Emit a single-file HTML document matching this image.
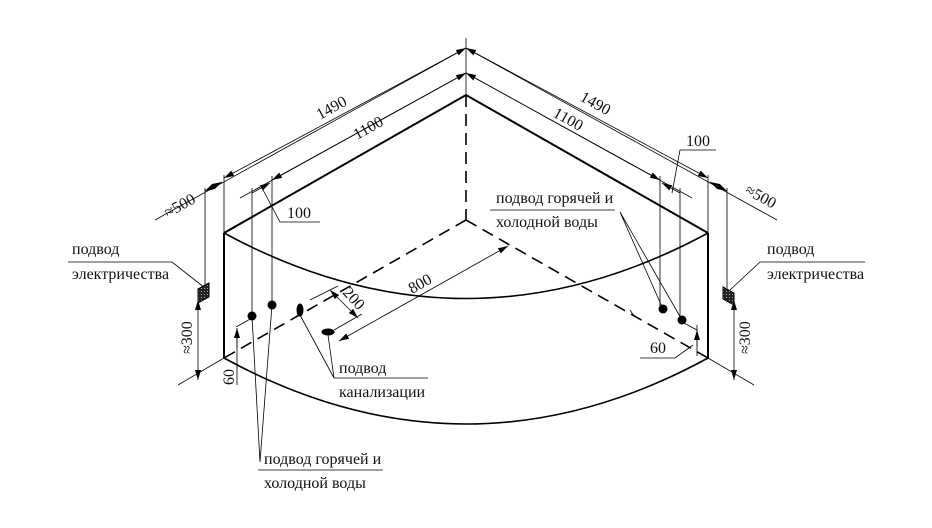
<!DOCTYPE html>
<html><head><meta charset="utf-8"><style>
html,body{margin:0;padding:0;background:#fff;}
svg{display:block;}
text{font-family:"Liberation Serif",serif;fill:#111;font-size:16px;}
</style></head><body>
<svg width="932" height="528" viewBox="0 0 932 528" xmlns="http://www.w3.org/2000/svg">
<defs>
<marker id="a" viewBox="0 0 10 6" refX="10" refY="3" markerWidth="10" markerHeight="6" orient="auto-start-reverse" markerUnits="userSpaceOnUse"><path d="M0,0 L10,3 L0,6 z" fill="#000"/></marker>
<pattern id="h" width="3" height="3" patternUnits="userSpaceOnUse"><rect width="3" height="3" fill="#222"/><rect width="1" height="1" fill="#aaa"/></pattern>
</defs>
<g stroke="#000" fill="none">
<path d="M224,233 L466,95 L708,233" stroke-width="2"/>
<path d="M224,233 L224,358 M708,233 L708,358" stroke-width="2"/>
<path d="M224,233 Q466,364 708,233" stroke-width="1.6"/>
<path d="M224,358 Q466,490 708,358" stroke-width="1.6"/>
<path d="M466,95 L466,220 M466,220 L224,358 M466,220 L708,358" stroke-width="1.6" stroke-dasharray="12,7"/>
<g stroke-width="0.8">
<path d="M466,38 L466,95"/>
<path d="M155,220 L466,48 L777,220"/>
<path d="M240,198 L466,73 L692,198"/>
<path d="M224,178 L466,48" marker-start="url(#a)" marker-end="url(#a)"/>
<path d="M708,178 L466,48" marker-start="url(#a)" marker-end="url(#a)"/>
<path d="M272,180 L466,73" marker-start="url(#a)" marker-end="url(#a)"/>
<path d="M660,180 L466,73" marker-start="url(#a)" marker-end="url(#a)"/>
<path d="M205,191 L222,182" marker-start="url(#a)" marker-end="url(#a)"/>
<path d="M727,191 L710,182" marker-start="url(#a)" marker-end="url(#a)"/>
<path d="M252,193 L270,183" marker-end="url(#a)"/>
<path d="M680,193 L662,183" marker-end="url(#a)"/>
<path d="M205,188 L205,290 M224,175 L224,233 M252,188 L252,316 M272,176 L272,305"/>
<path d="M727,188 L727,290 M708,175 L708,233 M680,188 L680,320 M660,176 L660,309"/>
<path d="M262,188 L280,222 L320,222"/>
<path d="M672,193 L680,150 L716,150"/>
<path d="M68,262 L172,262 L205,288"/>
<path d="M865,262 L760,262 L730,290"/>
<path d="M178,385 L224,358 M754,385 L708,358"/>
<path d="M198,300 L198,380" marker-start="url(#a)" marker-end="url(#a)"/>
<path d="M734,300 L734,380" marker-start="url(#a)" marker-end="url(#a)"/>
<path d="M198,300 L205,297 M734,300 L727,297"/>
<path d="M236,327 L252,318 M237,385 L237,330"/>
<path d="M237,328 L237,348" marker-start="url(#a)"/>
<path d="M682,322 L697,330 M697,325 L697,356"/>
<path d="M697,330 L697,346" marker-start="url(#a)"/>
<path d="M640,358 L675,358 L693,345"/>
<path d="M252,316 L260,462 M272,305 L260,462 M258,470 L383,470"/>
<path d="M663,309 L620,212 M682,320 L620,212 M615,210 L490,210"/>
<path d="M300,315 L334,378 M328,335 L334,378 M334,378 L428,378"/>
<path d="M310,300 L338,286 M334,330 L362,314"/>
<path d="M330,290 L358,318" marker-start="url(#a)" marker-end="url(#a)"/>
<path d="M339,341 L508,246" marker-start="url(#a)" marker-end="url(#a)"/>
<path d="M630,310 L634,316"/>
</g>
</g>
<circle cx="252" cy="316" r="4.5" fill="#000"/>
<circle cx="272" cy="305" r="4.5" fill="#000"/>
<circle cx="663" cy="309" r="4.5" fill="#000"/>
<circle cx="682" cy="320" r="4.5" fill="#000"/>
<ellipse cx="300" cy="310" rx="3.5" ry="6.5" fill="#000"/>
<ellipse cx="328" cy="332" rx="6.5" ry="3.5" fill="#000"/>
<path d="M198,289 L209,283 L209,297 L198,303 z" fill="url(#h)" stroke="#000"/>
<path d="M723,287 L734,293 L734,305 L723,299 z" fill="url(#h)" stroke="#000"/>
<text transform="translate(320,120) rotate(-29)">1490</text>
<text transform="translate(357,140) rotate(-29)">1100</text>
<text transform="translate(579,100) rotate(29)">1490</text>
<text transform="translate(552,116) rotate(29)">1100</text>
<text transform="translate(168,218) rotate(-29)" font-size="14">≈500</text>
<text transform="translate(744,193) rotate(29)" font-size="14">≈500</text>
<text x="287" y="218">100</text>
<text x="686" y="146">100</text>
<text transform="translate(412,294) rotate(-29)">800</text>
<text transform="translate(342,293) rotate(48)">200</text>
<text transform="translate(192,354) rotate(-90)" font-size="15">≈300</text>
<text transform="translate(750,354) rotate(-90)" font-size="15">≈300</text>
<text transform="translate(234,385) rotate(-90)" font-size="15">60</text>
<text x="650" y="353">60</text>
<text x="72" y="254">подвод</text>
<text x="72" y="279">электричества</text>
<text x="767" y="254">подвод</text>
<text x="767" y="279">электричества</text>
<text x="339" y="373">подвод</text>
<text x="339" y="397">канализации</text>
<text x="264" y="464">подвод горячей и</text>
<text x="264" y="488">холодной воды</text>
<text x="496" y="203">подвод горячей и</text>
<text x="496" y="227">холодной воды</text>
</svg>
</body></html>
